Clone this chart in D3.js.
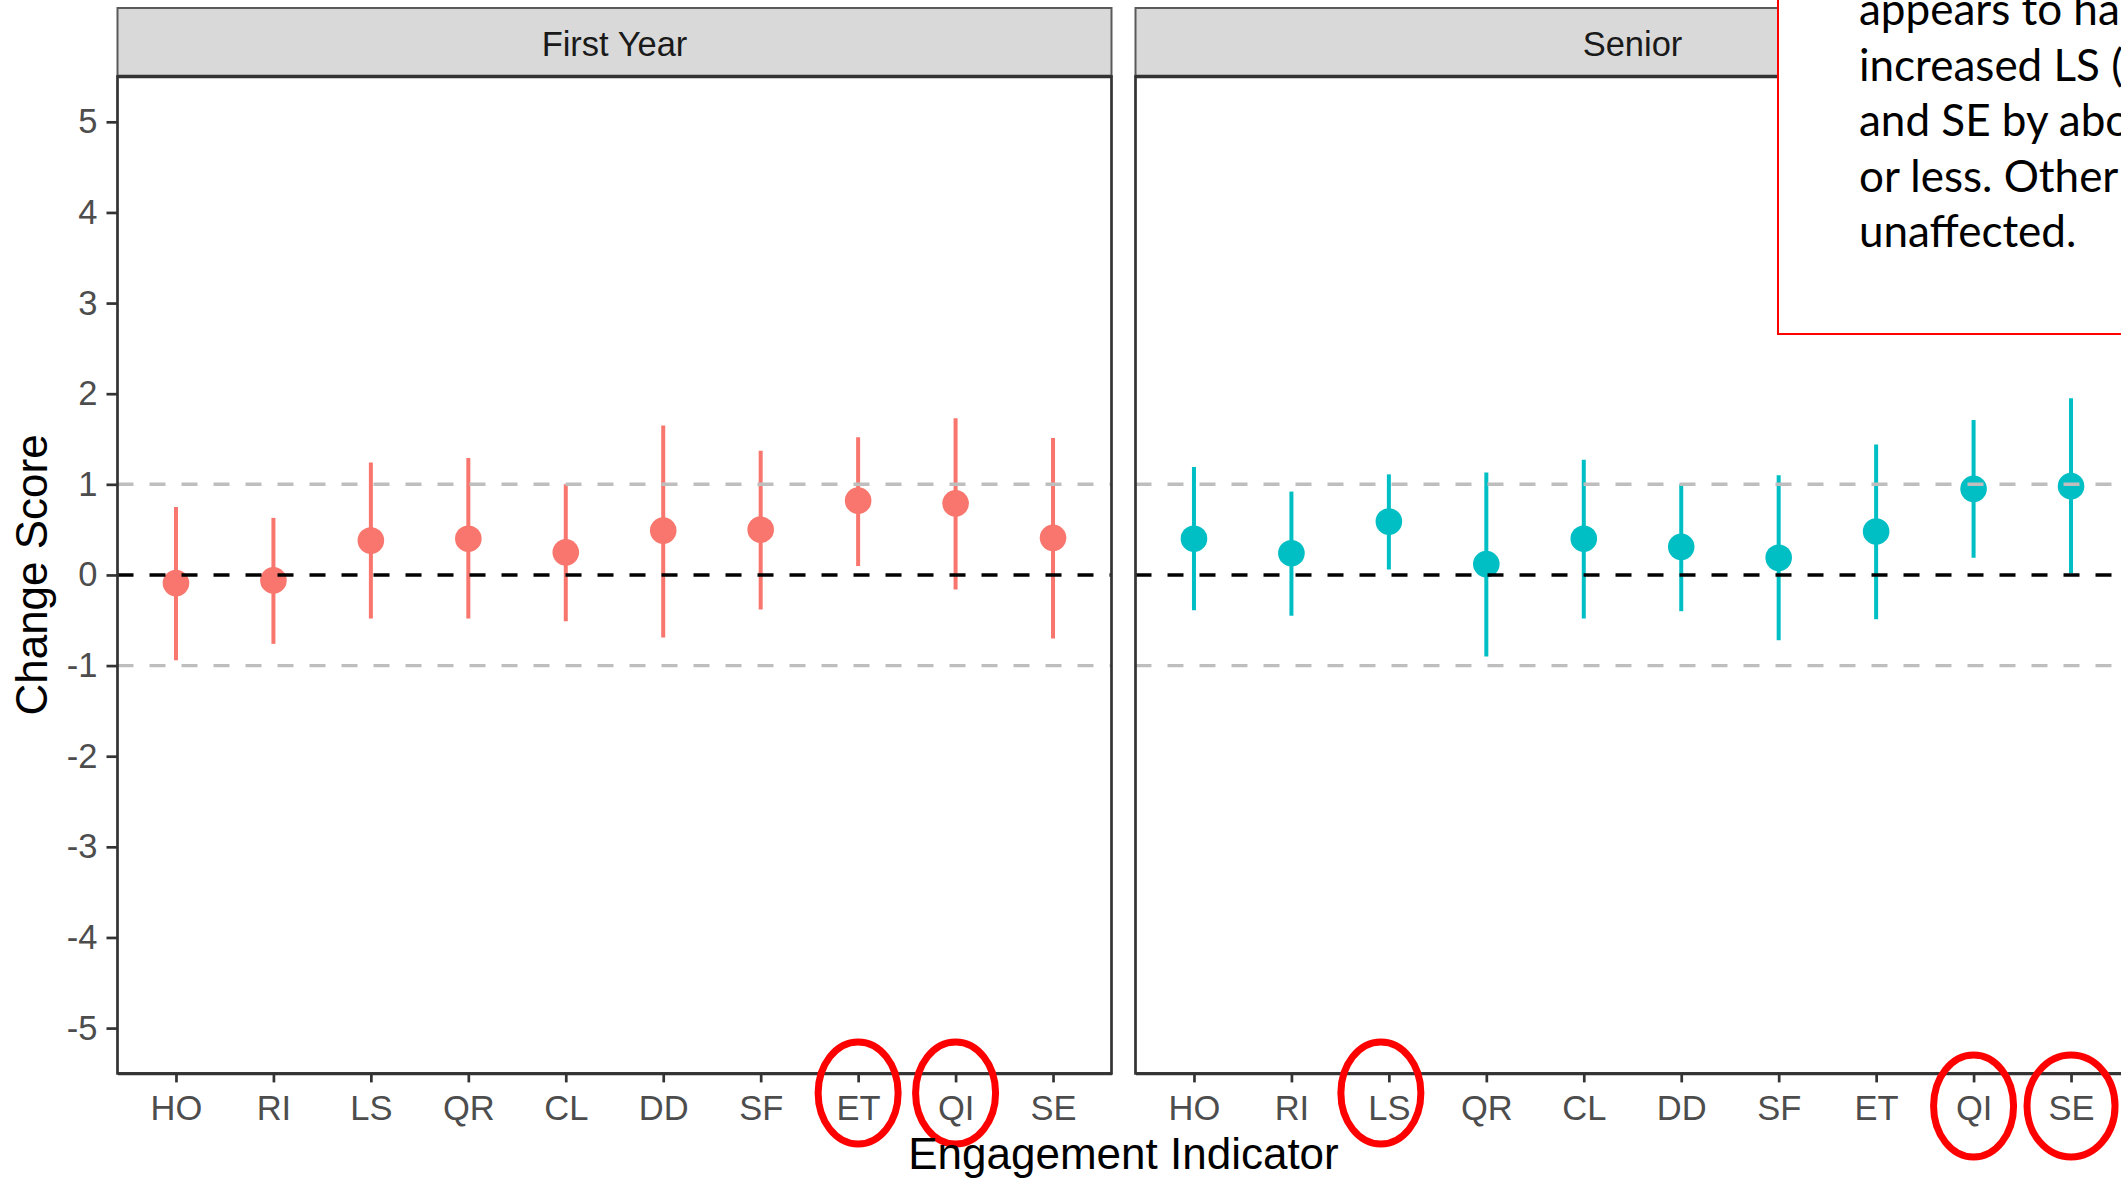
<!DOCTYPE html>
<html>
<head>
<meta charset="utf-8">
<script src="https://cdn.jsdelivr.net/npm/d3@7"></script>
<style>
  html, body { margin: 0; padding: 0; background: #fff; overflow: hidden; }
  svg { display: block; }
</style>
</head>
<body>
<svg id="chart" width="2121" height="1179"></svg>
<script>
// ---- data ----
const categories = ["HO", "RI", "LS", "QR", "CL", "DD", "SF", "ET", "QI", "SE"];
const panels = ["First Year", "Senior"];
const firstYearEst  = [-0.09, -0.06, 0.38, 0.40, 0.25, 0.49, 0.50, 0.82, 0.79, 0.41];
const firstYearLow  = [-0.94, -0.76, -0.48, -0.48, -0.51, -0.69, -0.38, 0.10, -0.16, -0.70];
const firstYearHigh = [0.75, 0.63, 1.24, 1.29, 1.00, 1.65, 1.37, 1.52, 1.73, 1.51];
const seniorEst  = [0.40, 0.24, 0.59, 0.12, 0.40, 0.31, 0.19, 0.48, 0.95, 0.98];
const seniorLow  = [-0.39, -0.45, 0.06, -0.90, -0.48, -0.40, -0.72, -0.49, 0.19, 0.02];
const seniorHigh = [1.19, 0.92, 1.11, 1.13, 1.27, 1.00, 1.10, 1.44, 1.71, 1.95];
const yTicks = [-5, -4, -3, -2, -1, 0, 1, 2, 3, 4, 5];
const yTickLabels = ["-5", "-4", "-3", "-2", "-1", "0", "1", "2", "3", "4", "5"];
const refLinesGray = [-1, 1];
const refLineZero = [0];
const highlights = [
  { panel: "First Year", cat: "ET" },
  { panel: "First Year", cat: "QI" },
  { panel: "Senior", cat: "LS" },
  { panel: "Senior", cat: "QI" },
  { panel: "Senior", cat: "SE" }
];
const noteLines = ["appears to ha", "increased LS (", "and SE by abo", "or less. Other", "unaffected."];

const seriesData = {
  "First Year": categories.map((c, i) => ({ cat: c, est: firstYearEst[i], lo: firstYearLow[i], hi: firstYearHigh[i] })),
  "Senior": categories.map((c, i) => ({ cat: c, est: seniorEst[i], lo: seniorLow[i], hi: seniorHigh[i] }))
};
const colors = { "First Year": "#F8766D", "Senior": "#00BFC4" };

// ---- layout ----
const svg = d3.select("#chart");
const panelX = { "First Year": [117.5, 1111.5], "Senior": [1135.5, 2129.5] };
const plotTop = 76.5, plotBottom = 1073.4, stripTop = 8;
const axisFont = "'Liberation Sans', Arial, sans-serif";

const y = d3.scaleLinear().domain([-5.5, 5.5]).range([plotBottom, plotTop]);

panels.forEach(p => {
  const [x0, x1] = panelX[p];
  const x = d3.scalePoint().domain(categories).range([x0, x1]).padding(0.6);
  const g = svg.append("g");
  const clipId = "clip-" + p.replace(/\s/g, "");
  svg.append("clipPath").attr("id", clipId)
    .append("rect").attr("x", x0).attr("y", plotTop).attr("width", x1 - x0).attr("height", plotBottom - plotTop);

  // strip
  g.append("rect").attr("x", x0).attr("y", stripTop).attr("width", x1 - x0).attr("height", plotTop - stripTop)
    .attr("fill", "#D9D9D9").attr("stroke", "#5a5a5a").attr("stroke-width", 2);
  g.append("text").attr("x", (x0 + x1) / 2).attr("y", 56).attr("text-anchor", "middle")
    .attr("font-family", axisFont).attr("font-size", 34.5).attr("fill", "#1A1A1A").text(p);

  const inner = g.append("g").attr("clip-path", `url(#${clipId})`);
  const d = seriesData[p];
  // error bars
  inner.selectAll("line.err").data(d).join("line").attr("class", "err")
    .attr("x1", v => x(v.cat)).attr("x2", v => x(v.cat))
    .attr("y1", v => y(v.lo)).attr("y2", v => y(v.hi))
    .attr("stroke", colors[p]).attr("stroke-width", 4);
  inner.selectAll("circle").data(d).join("circle")
    .attr("cx", v => x(v.cat)).attr("cy", v => y(v.est)).attr("r", 13.3)
    .attr("fill", colors[p]);
  // reference lines
  inner.selectAll("line.gray").data(refLinesGray).join("line").attr("class", "gray")
    .attr("x1", x0).attr("x2", x1).attr("y1", v => y(v)).attr("y2", v => y(v))
    .attr("stroke", "#BEBEBE").attr("stroke-width", 3.4).attr("stroke-dasharray", "16,16");
  inner.selectAll("line.zero").data(refLineZero).join("line").attr("class", "zero")
    .attr("x1", x0).attr("x2", x1).attr("y1", v => y(v)).attr("y2", v => y(v))
    .attr("stroke", "#000").attr("stroke-width", 3.4).attr("stroke-dasharray", "16,16");

  // panel border
  g.append("rect").attr("x", x0).attr("y", plotTop).attr("width", x1 - x0).attr("height", plotBottom - plotTop)
    .attr("fill", "none").attr("stroke", "#333").attr("stroke-width", 2.7);
  g.append("line").attr("x1", x0).attr("x2", x1).attr("y1", plotTop).attr("y2", plotTop)
    .attr("stroke", "#333").attr("stroke-width", 3.6);

  // x axis
  const xAxis = d3.axisBottom(x).tickSizeInner(9).tickSizeOuter(0).tickPadding(13);
  const xa = g.append("g").attr("transform", `translate(0,${plotBottom})`).call(xAxis);
  xa.select(".domain").attr("stroke", "#333").attr("stroke-width", 2.7);
  xa.selectAll(".tick line").attr("stroke", "#333").attr("stroke-width", 2.7);
  xa.selectAll(".tick text").attr("font-family", axisFont).attr("font-size", 34.5).attr("fill", "#4D4D4D")
    .attr("dy", "0.71em");

  // y axis on first panel only
  if (p === "First Year") {
    const yAxis = d3.axisLeft(y).tickValues(yTicks).tickSize(11).tickPadding(9)
      .tickFormat((v, i) => yTickLabels[i]);
    const ya = g.append("g").attr("transform", `translate(${x0},0)`).call(yAxis);
    ya.select(".domain").remove();
    ya.selectAll(".tick line").attr("stroke", "#333").attr("stroke-width", 2.7);
    ya.selectAll(".tick text").attr("font-family", axisFont).attr("font-size", 34.5).attr("fill", "#4D4D4D");
  }

  // highlight ellipses
  highlights.filter(h => h.panel === p).forEach(h => {
    const cy = (p === "First Year" || h.cat === "LS") ? 1093 : 1106;
    svg.append("ellipse").attr("cx", x(h.cat) + (h.cat === "LS" ? -8 : 0)).attr("cy", cy)
      .attr("rx", h.cat === "SE" && p === "Senior" ? 44 : 40).attr("ry", 51)
      .attr("fill", "none").attr("stroke", "#FF0000").attr("stroke-width", 7);
  });
});

// axis titles
svg.append("text").attr("x", 1123.5).attr("y", 1169).attr("text-anchor", "middle")
  .attr("font-family", axisFont).attr("font-size", 44).attr("fill", "#000").text("Engagement Indicator");
svg.append("text").attr("transform", `translate(47,${(plotTop + plotBottom) / 2}) rotate(-90)`)
  .attr("text-anchor", "middle").attr("font-family", axisFont).attr("font-size", 44).attr("fill", "#000")
  .text("Change Score");

// annotation box (overlay)
svg.append("rect").attr("x", 1778).attr("y", -10).attr("width", 400).attr("height", 344)
  .attr("fill", "#fff").attr("stroke", "#FF0000").attr("stroke-width", 2);
const note = svg.append("text").attr("font-family", "Lato, 'Open Sans', sans-serif").attr("font-size", 44).attr("fill", "#000");
noteLines.forEach((t, i) => {
  note.append("tspan").attr("x", 1859).attr("y", 25 + i * 55.6).text(t);
});
</script>
</body>
</html>
